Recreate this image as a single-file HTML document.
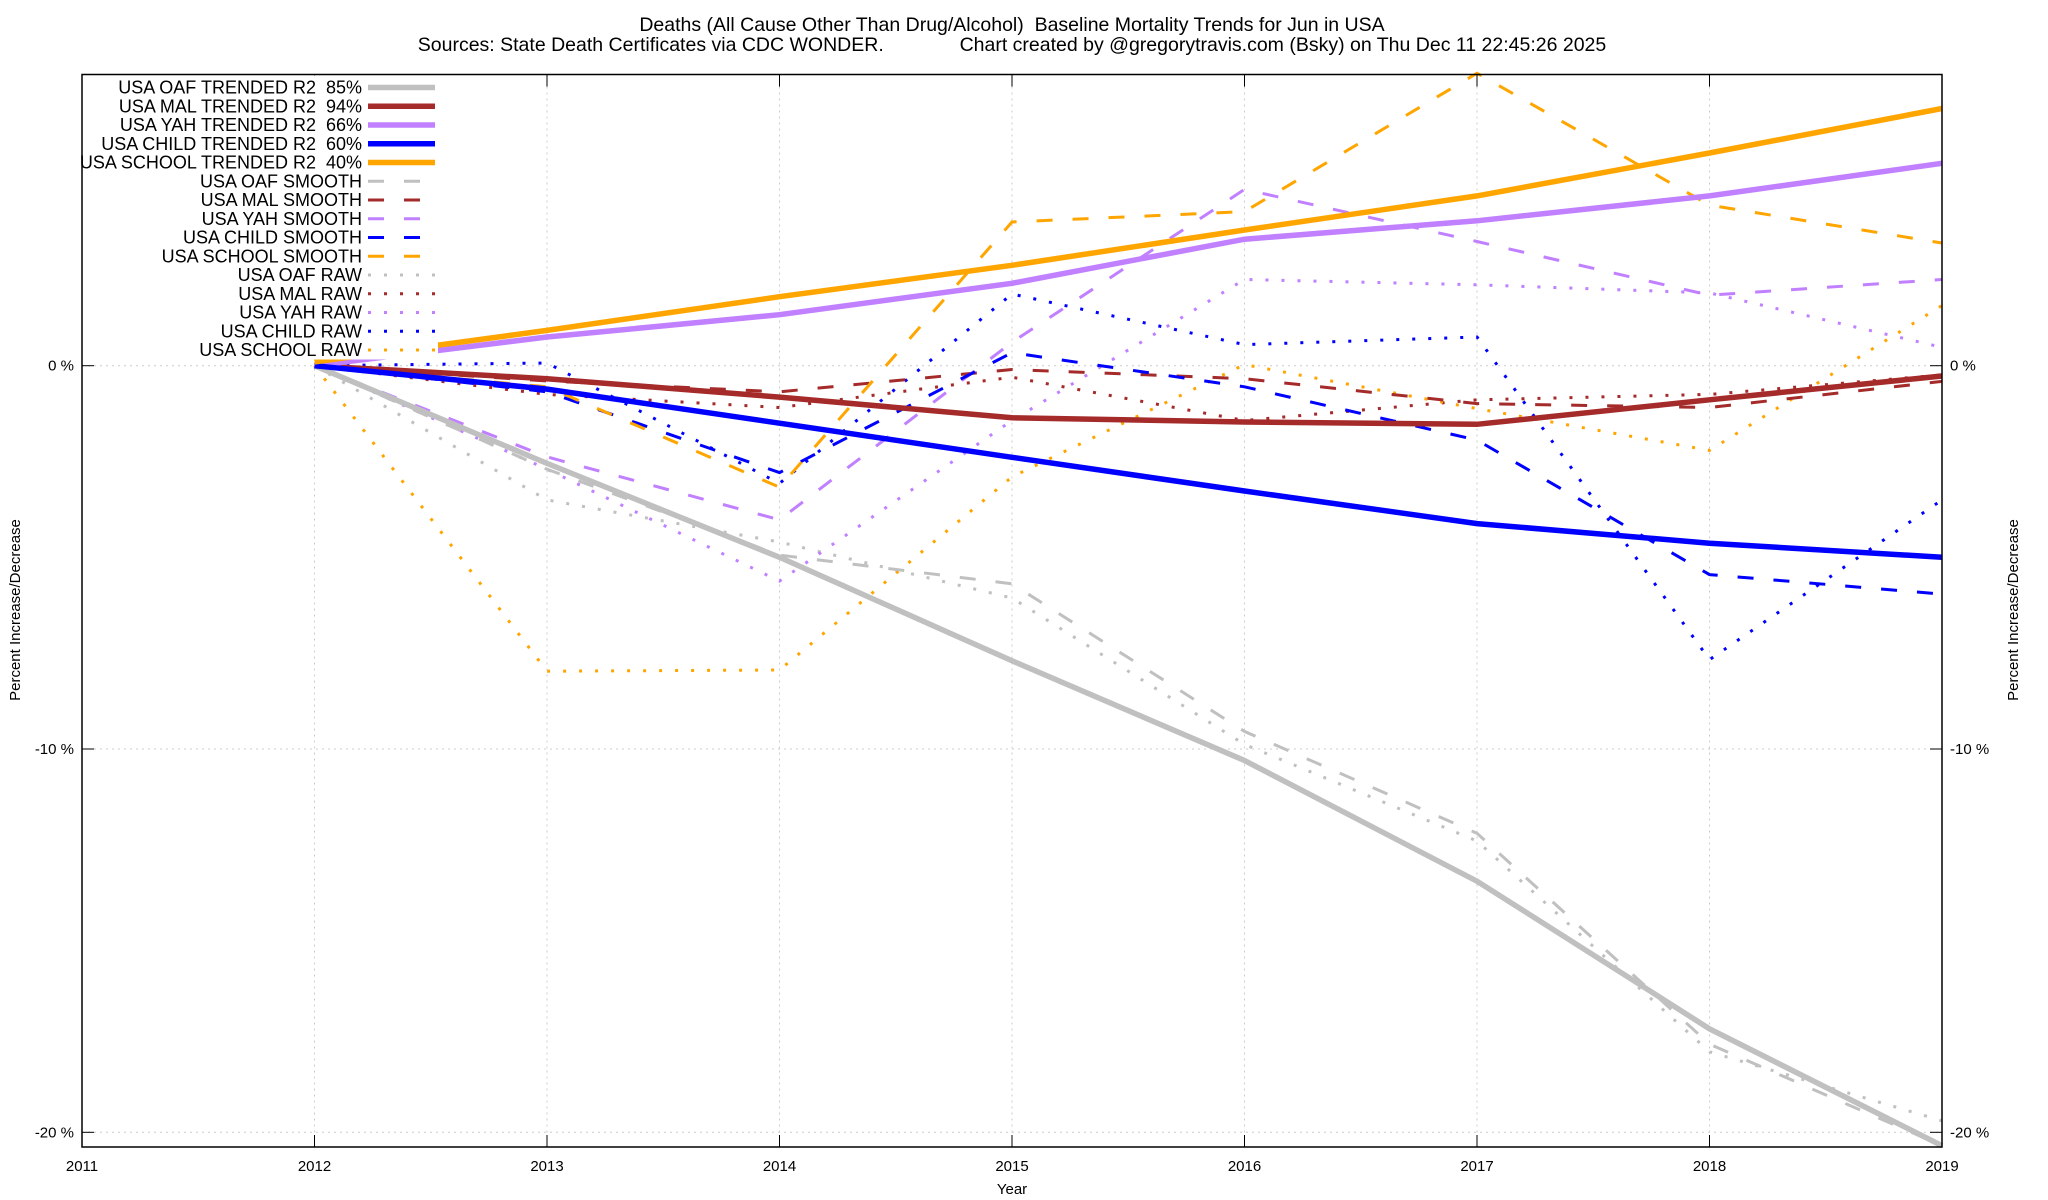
<!DOCTYPE html>
<html><head><meta charset="utf-8"><style>
html,body{margin:0;padding:0;background:#fff;}
svg{display:block;font-family:"Liberation Sans",sans-serif;}
text{white-space:pre;}
</style></head><body>
<svg id="chart" width="2048" height="1200" xmlns="http://www.w3.org/2000/svg" xml:space="preserve">
<text x="1012" y="31" font-size="19.5" text-anchor="middle">Deaths (All Cause Other Than Drug/Alcohol)  Baseline Mortality Trends for Jun in USA</text>
<text x="1012" y="51" font-size="19.5" text-anchor="middle">Sources: State Death Certificates via CDC WONDER.              Chart created by @gregorytravis.com (Bsky) on Thu Dec 11 22:45:26 2025</text>
<g id="grid"></g>
<g id="series"></g>
<g id="axes"></g>
<g id="legend"></g>
<text x="1012" y="1194" font-size="15" text-anchor="middle">Year</text>
<text transform="translate(20,610) rotate(-90)" font-size="15" text-anchor="middle">Percent Increase/Decrease</text>
<text transform="translate(2018,610) rotate(-90)" font-size="15" text-anchor="middle">Percent Increase/Decrease</text>
</svg>
<script>
const years = [2012,2013,2014,2015,2016,2017,2018,2019];
const xTicks = [2011,2012,2013,2014,2015,2016,2017,2018,2019];
const yTicks = [0,-10,-20];
const yTickLabels = ["0 %","-10 %","-20 %"];
const seriesNames = ["USA OAF TRENDED R2  85%","USA MAL TRENDED R2  94%","USA YAH TRENDED R2  66%","USA CHILD TRENDED R2  60%","USA SCHOOL TRENDED R2  40%","USA OAF SMOOTH","USA MAL SMOOTH","USA YAH SMOOTH","USA CHILD SMOOTH","USA SCHOOL SMOOTH","USA OAF RAW","USA MAL RAW","USA YAH RAW","USA CHILD RAW","USA SCHOOL RAW"];
const oafTrend = [0,-2.55,-5.0,-7.7,-10.3,-13.45,-17.3,-20.35];
const malTrend = [0,-0.34,-0.82,-1.36,-1.47,-1.53,-0.89,-0.27];
const yahTrend = [0,0.75,1.33,2.15,3.3,3.78,4.43,5.28];
const childTrend = [0,-0.61,-1.5,-2.39,-3.27,-4.12,-4.63,-5.0];
const schoolTrend = [0.1,0.92,1.8,2.62,3.54,4.43,5.55,6.71];
const oafSmooth = [0,-2.7,-4.94,-5.69,-9.54,-12.2,-17.7,-20.35];
const malSmooth = [0,-0.4,-0.68,-0.1,-0.34,-0.99,-1.09,-0.41];
const yahSmooth = [0,-2.38,-4.02,0.61,4.6,3.24,1.84,2.25];
const childSmooth = [0,-0.68,-2.79,0.34,-0.55,-1.94,-5.45,-5.96];
const schoolSmooth = [0,-0.55,-3.17,3.75,4.02,7.63,4.19,3.2];
const oafRaw = [0,-3.5,-4.6,-6.06,-9.88,-12.4,-17.9,-19.7];
const malRaw = [0,-0.75,-1.09,-0.3,-1.43,-0.89,-0.75,-0.24];
const yahRaw = [0,-2.7,-5.62,-1.43,2.25,2.11,1.9,0.48];
const childRaw = [0,0.07,-3.07,1.87,0.55,0.75,-7.67,-3.5];
const schoolRaw = [0,-7.97,-7.94,-2.9,0.03,-1.12,-2.21,1.57];

const NS="http://www.w3.org/2000/svg";
const L=82,R=1942,T=74.5,B=1147;
const xS=v=>L+(v-2011)/(2019-2011)*(R-L);
const yS=v=>365.7-v*38.33;
function mk(tag,attrs,parent){const e=document.createElementNS(NS,tag);for(const k in attrs)e.setAttribute(k,attrs[k]);parent.appendChild(e);return e;}
const grid=document.getElementById('grid'),axes=document.getElementById('axes'),ser=document.getElementById('series'),leg=document.getElementById('legend');
xTicks.forEach((t,i)=>{
  if(i>0&&i<xTicks.length-1){const g=mk('line',{x1:xS(t),x2:xS(t),y1:T,y2:B,stroke:'#ccc','stroke-width':1,'stroke-dasharray':'2,4'},grid);
  }
  const a=mk('line',{x1:xS(t),x2:xS(t),y1:B,y2:B-12,stroke:'#000','stroke-width':1},axes);
  
  const b=mk('line',{x1:xS(t),x2:xS(t),y1:T,y2:T+12,stroke:'#000','stroke-width':1},axes);
  
  const tx=mk('text',{x:xS(t),y:1171,'font-size':15,'text-anchor':'middle'},axes);tx.textContent=t;
  
});
yTicks.forEach((t,i)=>{
  const g=mk('line',{x1:L,x2:R,y1:yS(t),y2:yS(t),stroke:'#ccc','stroke-width':1,'stroke-dasharray':'2,4'},grid);
  
  const a=mk('line',{x1:L,x2:L+12,y1:yS(t),y2:yS(t),stroke:'#000'},axes);
  
  const b=mk('line',{x1:R-12,x2:R,y1:yS(t),y2:yS(t),stroke:'#000'},axes);
  
  const l=mk('text',{x:L-8,y:yS(t)+5,'font-size':15,'text-anchor':'end'},axes);l.textContent=yTickLabels[i];
  
  const r=mk('text',{x:R+8,y:yS(t)+5,'font-size':15},axes);r.textContent=yTickLabels[i];
  
});
const frame=mk('rect',{x:L,y:T,width:R-L,height:B-T,fill:'none',stroke:'#000','stroke-width':1.5},axes);


const colors=['#c0c0c0','#a52a2a','#c080ff','#0000ff','#ffa500'];
const data=[oafTrend,malTrend,yahTrend,childTrend,schoolTrend,oafSmooth,malSmooth,yahSmooth,childSmooth,schoolSmooth,oafRaw,malRaw,yahRaw,childRaw,schoolRaw];
function styleFor(i){const kind=Math.floor(i/5);
  if(kind===0)return{'stroke-width':5.5,'stroke-dasharray':'none'};
  if(kind===1)return{'stroke-width':3,'stroke-dasharray':'16,20'};
  return{'stroke-width':3,'stroke-dasharray':'3,13'};}
const order=[10,11,12,13,14,5,6,7,8,9,0,1,2,3,4];
order.forEach(i=>{
  const pts=data[i].map((v,j)=>xS(years[j]).toFixed(1)+','+yS(v).toFixed(1)).join(' ');
  const p=mk('polyline',Object.assign({points:pts,fill:'none',stroke:colors[i%5]},styleFor(i)),ser);
  
  
});
const bg=mk('rect',{x:L+1,y:T+1,width:355,height:284,fill:'#fff'},leg);

seriesNames.forEach((n,i)=>{
  const y=87.5+i*18.75;
  const t=mk('text',{x:362,y:y+6,'font-size':18,'text-anchor':'end'},leg);t.textContent=n;
  
  const s=mk('line',Object.assign({x1:368,x2:435,y1:y,y2:y,stroke:colors[i%5]},styleFor(i)),leg);
  
});
</script>
</body></html>
